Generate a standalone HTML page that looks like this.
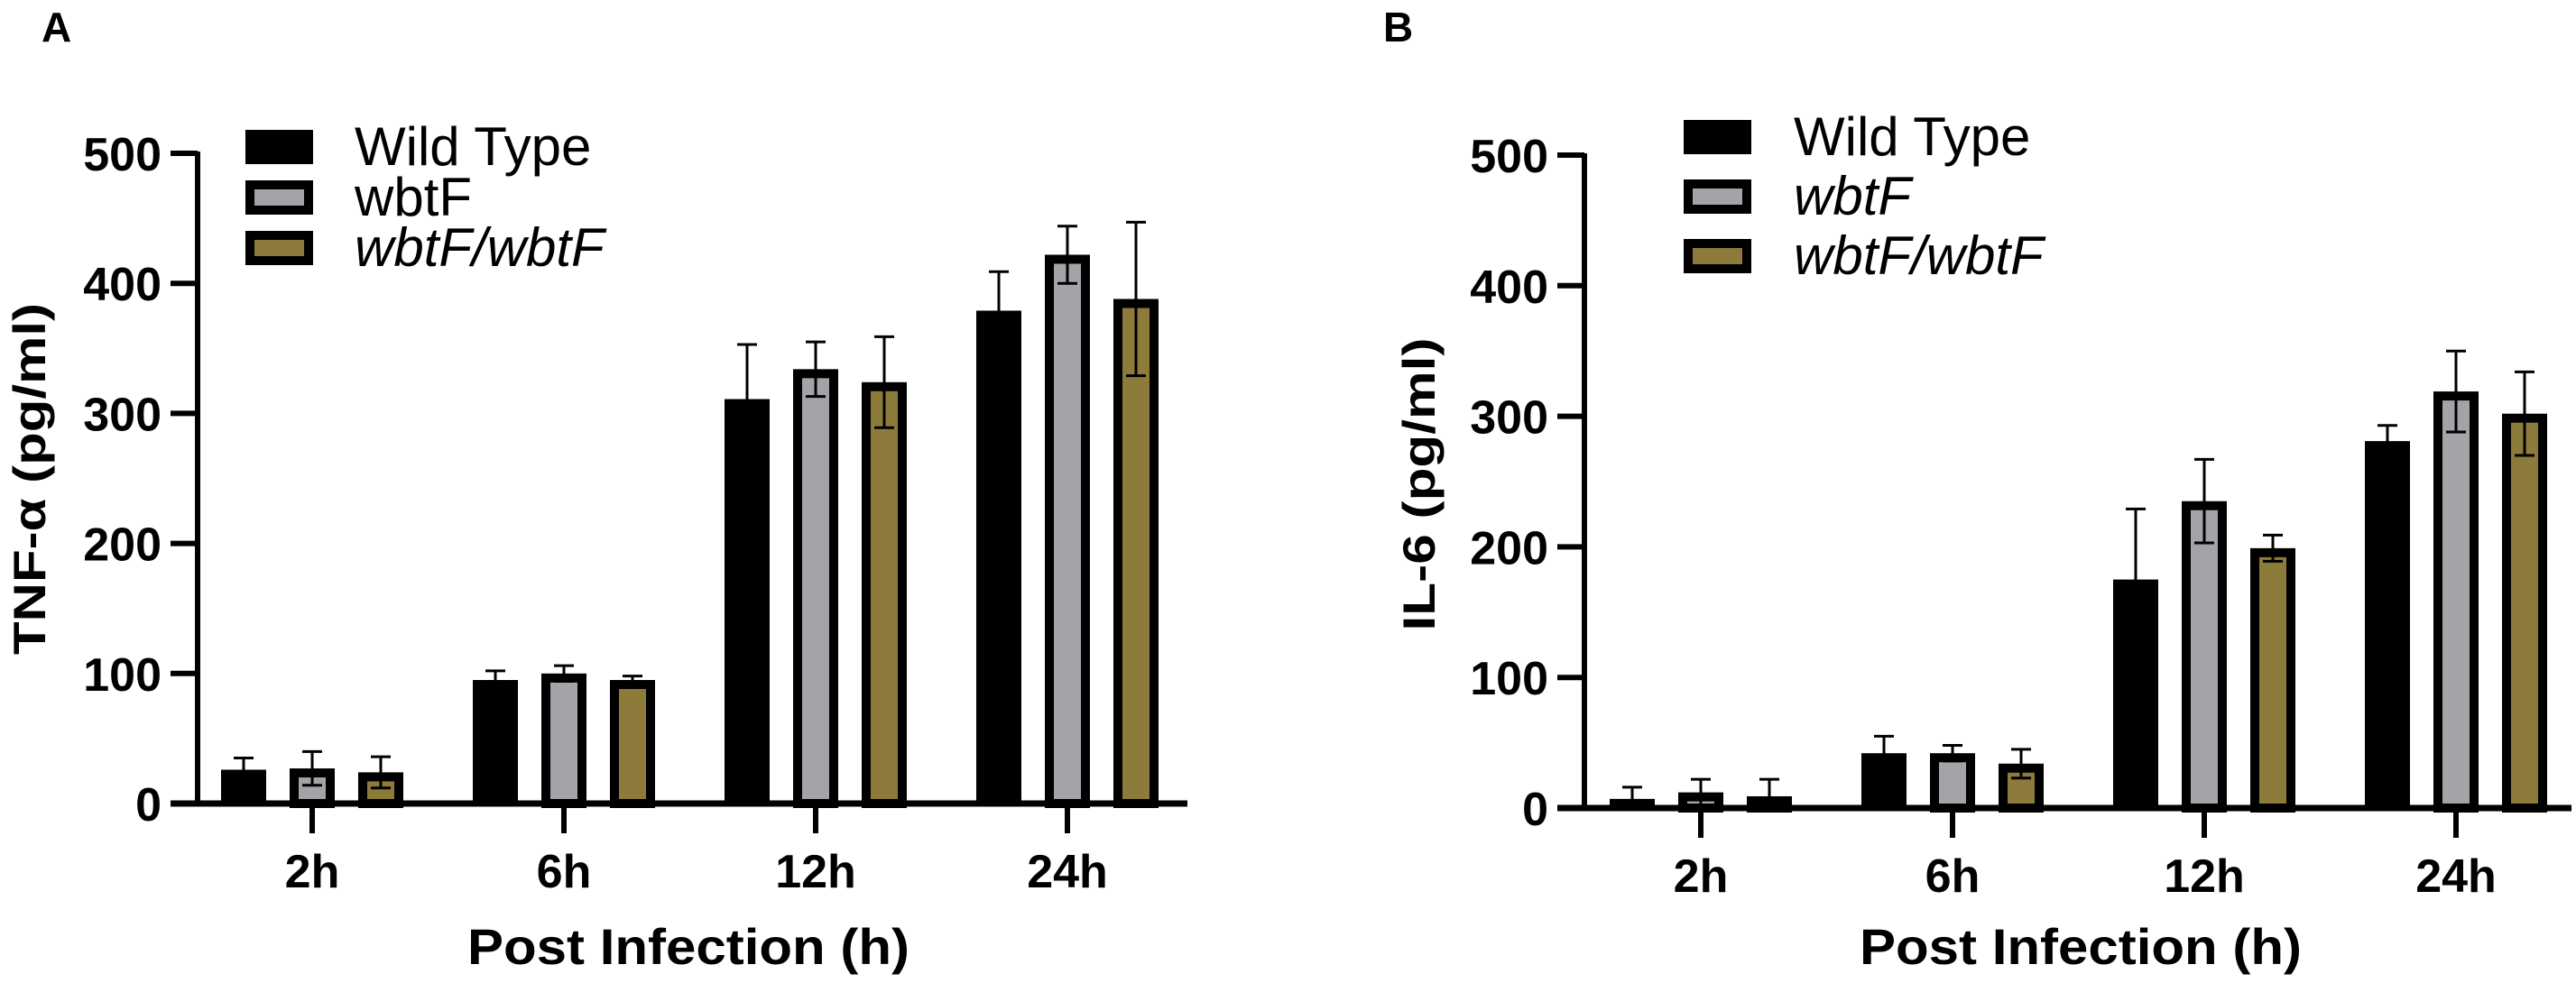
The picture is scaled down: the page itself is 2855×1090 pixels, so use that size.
<!DOCTYPE html>
<html><head><meta charset="utf-8">
<style>
html,body{margin:0;padding:0;background:#fff;}
svg{display:block;font-family:"Liberation Sans",Arial,sans-serif;}
</style></head>
<body>
<svg id="fig" width="2855" height="1090" viewBox="0 0 2855 1090" xmlns="http://www.w3.org/2000/svg"></svg>
<script>
const categories = ["2h","6h","12h","24h"];
const seriesNames = ["Wild Type","wbtF","wbtF/wbtF"];
const yTicks = [0,100,200,300,400,500];
const tnfWT = [26,95,311,379];
const tnfWbtF = [27,100,334,422];
const tnfComp = [24,95,324,388];
const tnfWTErr = [9,7,42,30];
const tnfWbtFErr = [13,6,21,22];
const tnfCompErr = [12,3,35,59];
const il6WT = [7,42,175,281];
const il6WbtF = [12,42,235,319];
const il6Comp = [9,34,199,302];
const il6WTErr = [9,13,54,12];
const il6WbtFErr = [10,6,32,31];
const il6CompErr = [13,11,10,32];

const NS = "http://www.w3.org/2000/svg";
const svg = document.getElementById('fig');
function mk(tag, attrs, parent){
  const e = document.createElementNS(NS, tag);
  for (const k in attrs) e.setAttribute(k, attrs[k]);
  (parent||svg).appendChild(e);
  return e;
}
const fills = ["#000000","#a4a4a8","#8c7b3a"];

function panel(cfg){
  const g = mk('g', {});
  
  
  const y = v => cfg.y0 - (v / 500) * (cfg.y0 - cfg.y500);
  const xc = i => cfg.x0 + i * cfg.step;
  const series = [cfg.a, cfg.b, cfg.c];
  const errs = [cfg.ae, cfg.be, cfg.ce];
  // bars
  for (let s = 0; s < 3; s++) {
    for (let i = 0; i < categories.length; i++) {
      const cx = xc(i) + (s - 1) * 76;
      const top = y(series[s][i]);
      const h = cfg.y0 - top;
      const bw = 50;
      let r;
      if (s === 0) {
        r = mk('rect', {x: cx - bw/2, y: top, width: bw, height: h, fill: '#000'}, g);
      } else {
        r = mk('rect', {x: cx - bw/2 + 5, y: top + 5, width: bw - 10, height: Math.max(h - 5, 0), fill: fills[s], stroke: '#000', 'stroke-width': 10}, g);
      }
      
      
      const e = errs[s][i];
      const et = y(series[s][i] + e), eb = y(Math.max(series[s][i] - e, 0));
      const eg = mk('g', {stroke: '#000', 'stroke-width': 3}, g);
      
      
      mk('line', {x1: cx, x2: cx, y1: et, y2: eb}, eg);
      mk('line', {x1: cx - 11, x2: cx + 11, y1: et, y2: et}, eg);
      mk('line', {x1: cx - 11, x2: cx + 11, y1: eb, y2: eb}, eg);
    }
  }
  // axes
  const ya = mk('line', {x1: cfg.ax, x2: cfg.ax, y1: cfg.y500 - 2, y2: cfg.y0, stroke: '#000', 'stroke-width': 6}, g);
  
  
  const xa = mk('line', {x1: cfg.ax - 30, x2: cfg.xEnd, y1: cfg.y0, y2: cfg.y0, stroke: '#000', 'stroke-width': 7}, g);
  
  
  yTicks.forEach(t => {
    mk('line', {x1: cfg.ax - 30, x2: cfg.ax, y1: y(t), y2: y(t), stroke: '#000', 'stroke-width': 6}, g);
    const tx = mk('text', {x: cfg.ax - 40, y: y(t) + 19, 'text-anchor': 'end', 'font-size': 52, 'font-weight': 'bold'}, g);
    tx.textContent = t;
    
    
  });
  categories.forEach((c, i) => {
    mk('line', {x1: xc(i), x2: xc(i), y1: cfg.y0, y2: cfg.y0 + 33, stroke: '#000', 'stroke-width': 6}, g);
    const tx = mk('text', {x: xc(i), y: cfg.y0 + 93, 'text-anchor': 'middle', 'font-size': 52, 'font-weight': 'bold'}, g);
    tx.textContent = c;
    
    
  });
  const xt = mk('text', {x: cfg.xTitleX, y: 1069, 'text-anchor': 'middle', 'font-size': 56, 'font-weight': 'bold', textLength: 490, lengthAdjust: 'spacingAndGlyphs'}, g);
  xt.textContent = 'Post Infection (h)';
  
  
  const yt = mk('text', {x: 0, y: 0, 'text-anchor': 'middle', 'font-size': 50, 'font-weight': 'bold', textLength: cfg.yTitleLen, lengthAdjust: 'spacingAndGlyphs', transform: `translate(${cfg.yTitleX},${cfg.yTitleY}) rotate(-90)`}, g);
  yt.textContent = cfg.yTitle;
  
  
  const pl = mk('text', {x: cfg.letterX, y: 46, 'font-size': 46, 'font-weight': 'bold'}, g);
  pl.textContent = cfg.letter;
  
  
  // legend
  for (let s = 0; s < 3; s++) {
    const ly = cfg.legY + s * cfg.legStep;
    const lg = mk('g', {}, g);
    
    
    if (s === 0) mk('rect', {x: cfg.legX, y: ly, width: cfg.legW, height: 38, fill: '#000'}, lg);
    else mk('rect', {x: cfg.legX + 5, y: ly + 5, width: cfg.legW - 10, height: 28, fill: fills[s], stroke: '#000', 'stroke-width': 10}, lg);
    const tx = mk('text', {x: cfg.legTextX, y: ly + 39, 'font-size': 60}, lg);
    if (s === 2 || (s === 1 && cfg.italicWbtF)) tx.setAttribute('font-style', 'italic');
    tx.textContent = seriesNames[s];
  }
}

panel({name: 'tnf-alpha-panel', a: tnfWT, b: tnfWbtF, c: tnfComp, ae: tnfWTErr, be: tnfWbtFErr, ce: tnfCompErr,
  ax: 219, y0: 891, y500: 170, x0: 346, step: 279, xEnd: 1316, xTitleX: 763,
  yTitle: 'TNF-α (pg/ml)', yTitleX: 50, yTitleY: 531, yTitleLen: 390, letter: 'A', letterX: 46,
  legX: 272, legY: 144, legW: 75, legStep: 56, legTextX: 393, italicWbtF: false});
panel({name: 'il-6-panel', a: il6WT, b: il6WbtF, c: il6Comp, ae: il6WTErr, be: il6WbtFErr, ce: il6CompErr,
  ax: 1756, y0: 896, y500: 172, x0: 1885, step: 279, xEnd: 2850, xTitleX: 2306,
  yTitle: 'IL-6 (pg/ml)', yTitleX: 1590, yTitleY: 537, yTitleLen: 325, letter: 'B', letterX: 1533,
  legX: 1866, legY: 133, legW: 75, legStep: 66, legTextX: 1988, italicWbtF: true});
</script>
</body></html>
